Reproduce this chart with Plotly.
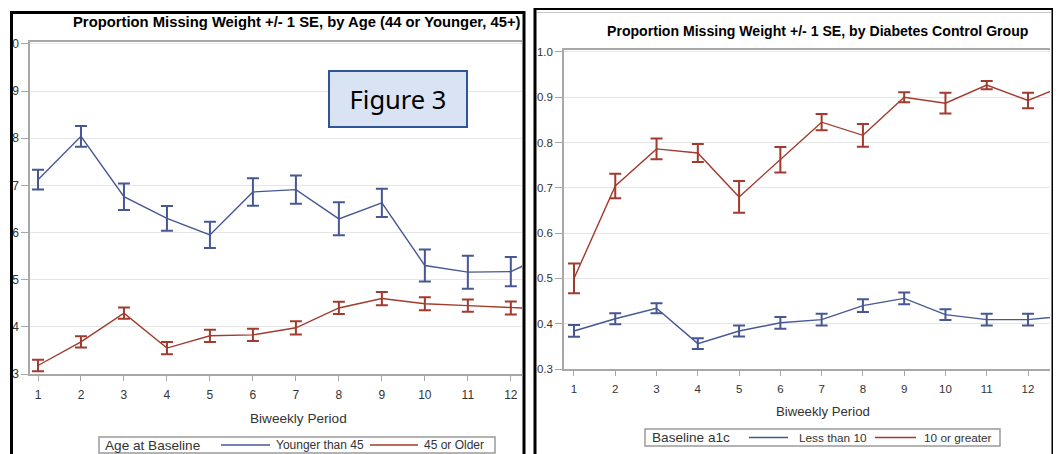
import plotly.graph_objects as go

# ---------------- data ----------------
periods = [1, 2, 3, 4, 5, 6, 7, 8, 9, 10, 11, 12, 13]
tick_periods = [1, 2, 3, 4, 5, 6, 7, 8, 9, 10, 11, 12]
y_ticks = [0.3, 0.4, 0.5, 0.6, 0.7, 0.8, 0.9, 1.0]
# the left panel's y labels are cropped in the source picture: only the last digit shows
left_y_ticktext = ["3", "4", "5", "6", "7", "8", "9", "0"]

# Left panel: by age
younger_45 = [0.712, 0.804, 0.676, 0.630, 0.595, 0.686, 0.691, 0.629, 0.663, 0.530, 0.516, 0.517, 0.560]
younger_45_se = [0.021, 0.022, 0.028, 0.026, 0.028, 0.029, 0.030, 0.035, 0.030, 0.034, 0.035, 0.031, 0.030]
older_45 = [0.318, 0.368, 0.429, 0.355, 0.381, 0.383, 0.398, 0.440, 0.460, 0.449, 0.445, 0.440, 0.437]
older_45_se = [0.012, 0.012, 0.012, 0.013, 0.013, 0.013, 0.014, 0.013, 0.014, 0.014, 0.013, 0.014, 0.014]

# Right panel: by baseline a1c
less_10 = [0.384, 0.411, 0.434, 0.356, 0.384, 0.402, 0.409, 0.440, 0.456, 0.420, 0.409, 0.409, 0.418]
less_10_se = [0.013, 0.012, 0.011, 0.012, 0.012, 0.013, 0.013, 0.014, 0.013, 0.012, 0.013, 0.013, 0.013]
ten_plus = [0.500, 0.704, 0.786, 0.777, 0.680, 0.762, 0.845, 0.816, 0.900, 0.887, 0.927, 0.893, 0.930]
ten_plus_se = [0.033, 0.027, 0.023, 0.020, 0.035, 0.028, 0.018, 0.025, 0.011, 0.023, 0.009, 0.017, 0.015]

left_title = "Proportion Missing Weight +/- 1 SE, by Age (44 or Younger, 45+)"
right_title = "Proportion Missing Weight +/- 1 SE, by Diabetes Control Group"
x_title = "Biweekly Period"
left_legend = ["Age at Baseline", "Younger than 45", "45 or Older"]
right_legend = ["Baseline a1c", "Less than 10", "10 or greater"]

# ---------------- style ----------------
OFF = 8                      # page body margin
W, H = 1061 - OFF, 454 - OFF
BLUE = "#465793"
RED = "#A23A2E"
FONT = "Liberation Sans, Arial, sans-serif"
AXIS_GRAY = "#A8A8A8"
GRID = "#E6E6E6"
TEXT = "#333333"


def fx(px):
    return (px - OFF) / W


def fy(py):
    return 1 - (py - OFF) / H


fig = go.Figure()


def add_series(x, y, se, color, name, xa, ya):
    fig.add_trace(go.Scatter(
        x=x, y=y, mode="lines", name=name, showlegend=False,
        line=dict(color=color, width=1.4),
        error_y=dict(type="data", array=se, visible=True, color=color,
                     thickness=2, width=6),
        xaxis=xa, yaxis=ya, hoverinfo="x+y+name",
    ))


add_series(periods, younger_45, younger_45_se, BLUE, left_legend[1], "x", "y")
add_series(periods, older_45, older_45_se, RED, left_legend[2], "x", "y")
add_series(periods, less_10, less_10_se, BLUE, right_legend[1], "x2", "y2")
add_series(periods, ten_plus, ten_plus_se, RED, right_legend[2], "x2", "y2")


def xaxis(domain, rng, size, standoff):
    return dict(domain=domain, range=rng, tickmode="array", tickvals=tick_periods,
                automargin=False,
                showline=True, linecolor=AXIS_GRAY, linewidth=1.5, mirror=True,
                ticks="outside", ticklen=5, tickcolor=AXIS_GRAY, tickwidth=1.2,
                ticklabelstandoff=standoff,
                showgrid=False, zeroline=False,
                tickfont=dict(family=FONT, size=size, color=TEXT))


def yaxis(domain, rng, size, anchor, ticktext):
    return dict(domain=domain, range=rng, tickmode="array", tickvals=y_ticks,
                ticktext=ticktext, anchor=anchor, automargin=False,
                showline=True, linecolor=AXIS_GRAY, linewidth=1.5,
                ticks="outside", ticklen=7, tickcolor=AXIS_GRAY, tickwidth=1.2,
                showgrid=True, gridcolor=GRID, gridwidth=1, zeroline=False,
                tickfont=dict(family=FONT, size=size, color=TEXT))


# left plot area: x 30..522 px, y 42..374 px
# right plot area: x 564..1050 px, y 50..369 px
fig.update_layout(
    width=W, height=H,
    margin=dict(l=0, r=0, t=0, b=0, pad=0, autoexpand=False),
    paper_bgcolor="white", plot_bgcolor="white",
    showlegend=False,
    xaxis=xaxis([fx(30), fx(522)], [0.814, 12.26], 12, 4),
    yaxis=yaxis([fy(374), fy(42)], [0.3, 1.004], 12, "x", left_y_ticktext),
    xaxis2=dict(**xaxis([fx(564), fx(1050)], [0.758, 12.533], 11.5, 3), anchor="y2"),
    yaxis2=yaxis([fy(369), fy(50)], [0.3, 1.0044], 11.5, "x2",
                 [f"{v:.1f}" for v in y_ticks]),
)

shapes = []
annotations = []

# panel frames
shapes.append(dict(type="rect", xref="paper", yref="paper", x0=fx(11.5), x1=fx(524),
                   y0=fy(470), y1=fy(12.5), line=dict(color="black", width=3),
                   fillcolor="rgba(0,0,0,0)", layer="above"))
shapes.append(dict(type="rect", xref="paper", yref="paper", x0=fx(535), x1=fx(1053),
                   y0=fy(470), y1=fy(8.5), line=dict(color="black", width=3),
                   fillcolor="rgba(0,0,0,0)", layer="above"))
# thin grey border of the right graph image
shapes.append(dict(type="line", xref="paper", yref="paper", x0=fx(537), x1=fx(1051),
                   y0=fy(12.5), y1=fy(12.5), line=dict(color="#C8C8C8", width=1),
                   layer="above"))


def text(x, y, s, size, anchor="center", color=TEXT, bold=False):
    annotations.append(dict(
        x=fx(x), y=fy(y), xref="paper", yref="paper", text=f"<b>{s}</b>" if bold else s,
        showarrow=False, xanchor=anchor, yanchor="middle",
        font=dict(family=FONT, size=size, color=color)))


# titles
text(297, 22, left_title, 14.8, bold=True, color="black")
text(818, 31, right_title, 14.1, bold=True, color="black")
# axis titles
text(298, 418, x_title, 13.6)
text(823, 411, x_title, 13.2)


def legend(x0, x1, y0, y1, labels, pos, size_title, size_item):
    shapes.append(dict(type="rect", xref="paper", yref="paper", x0=fx(x0), x1=fx(x1),
                       y0=fy(y1), y1=fy(y0), line=dict(color="#9A9A9A", width=1.5),
                       fillcolor="white", layer="above"))
    yc = (y0 + y1) / 2
    text(pos[0], yc, labels[0], size_title, anchor="left")
    for (lx0, lx1, tx), lab, col in zip(pos[1:], labels[1:], [BLUE, RED]):
        shapes.append(dict(type="line", xref="paper", yref="paper", x0=fx(lx0), x1=fx(lx1),
                           y0=fy(yc), y1=fy(yc), line=dict(color=col, width=1.4),
                           layer="above"))
        text(tx, yc, lab, size_item, anchor="left")


legend(99, 495, 437, 453, left_legend,
       [103, (221, 270, 274), (370, 418, 422)], 13.6, 12)
legend(645, 1000, 429, 446, right_legend,
       [650, (749, 788, 797), (875, 916, 922)], 13.6, 11.8)

# "Figure 3" label box
annotations.append(dict(
    x=fx(398), y=fy(99), xref="paper", yref="paper", text="Figure 3",
    showarrow=False, xanchor="center", yanchor="middle",
    width=136, height=54, bgcolor="#DAE3F3", bordercolor="#2F5597",
    borderwidth=2, borderpad=0,
    font=dict(family="Noto Sans, Open Sans, sans-serif", size=25.5, color="black")))

fig.update_layout(shapes=shapes, annotations=annotations)
fig.write_html("out.html")
